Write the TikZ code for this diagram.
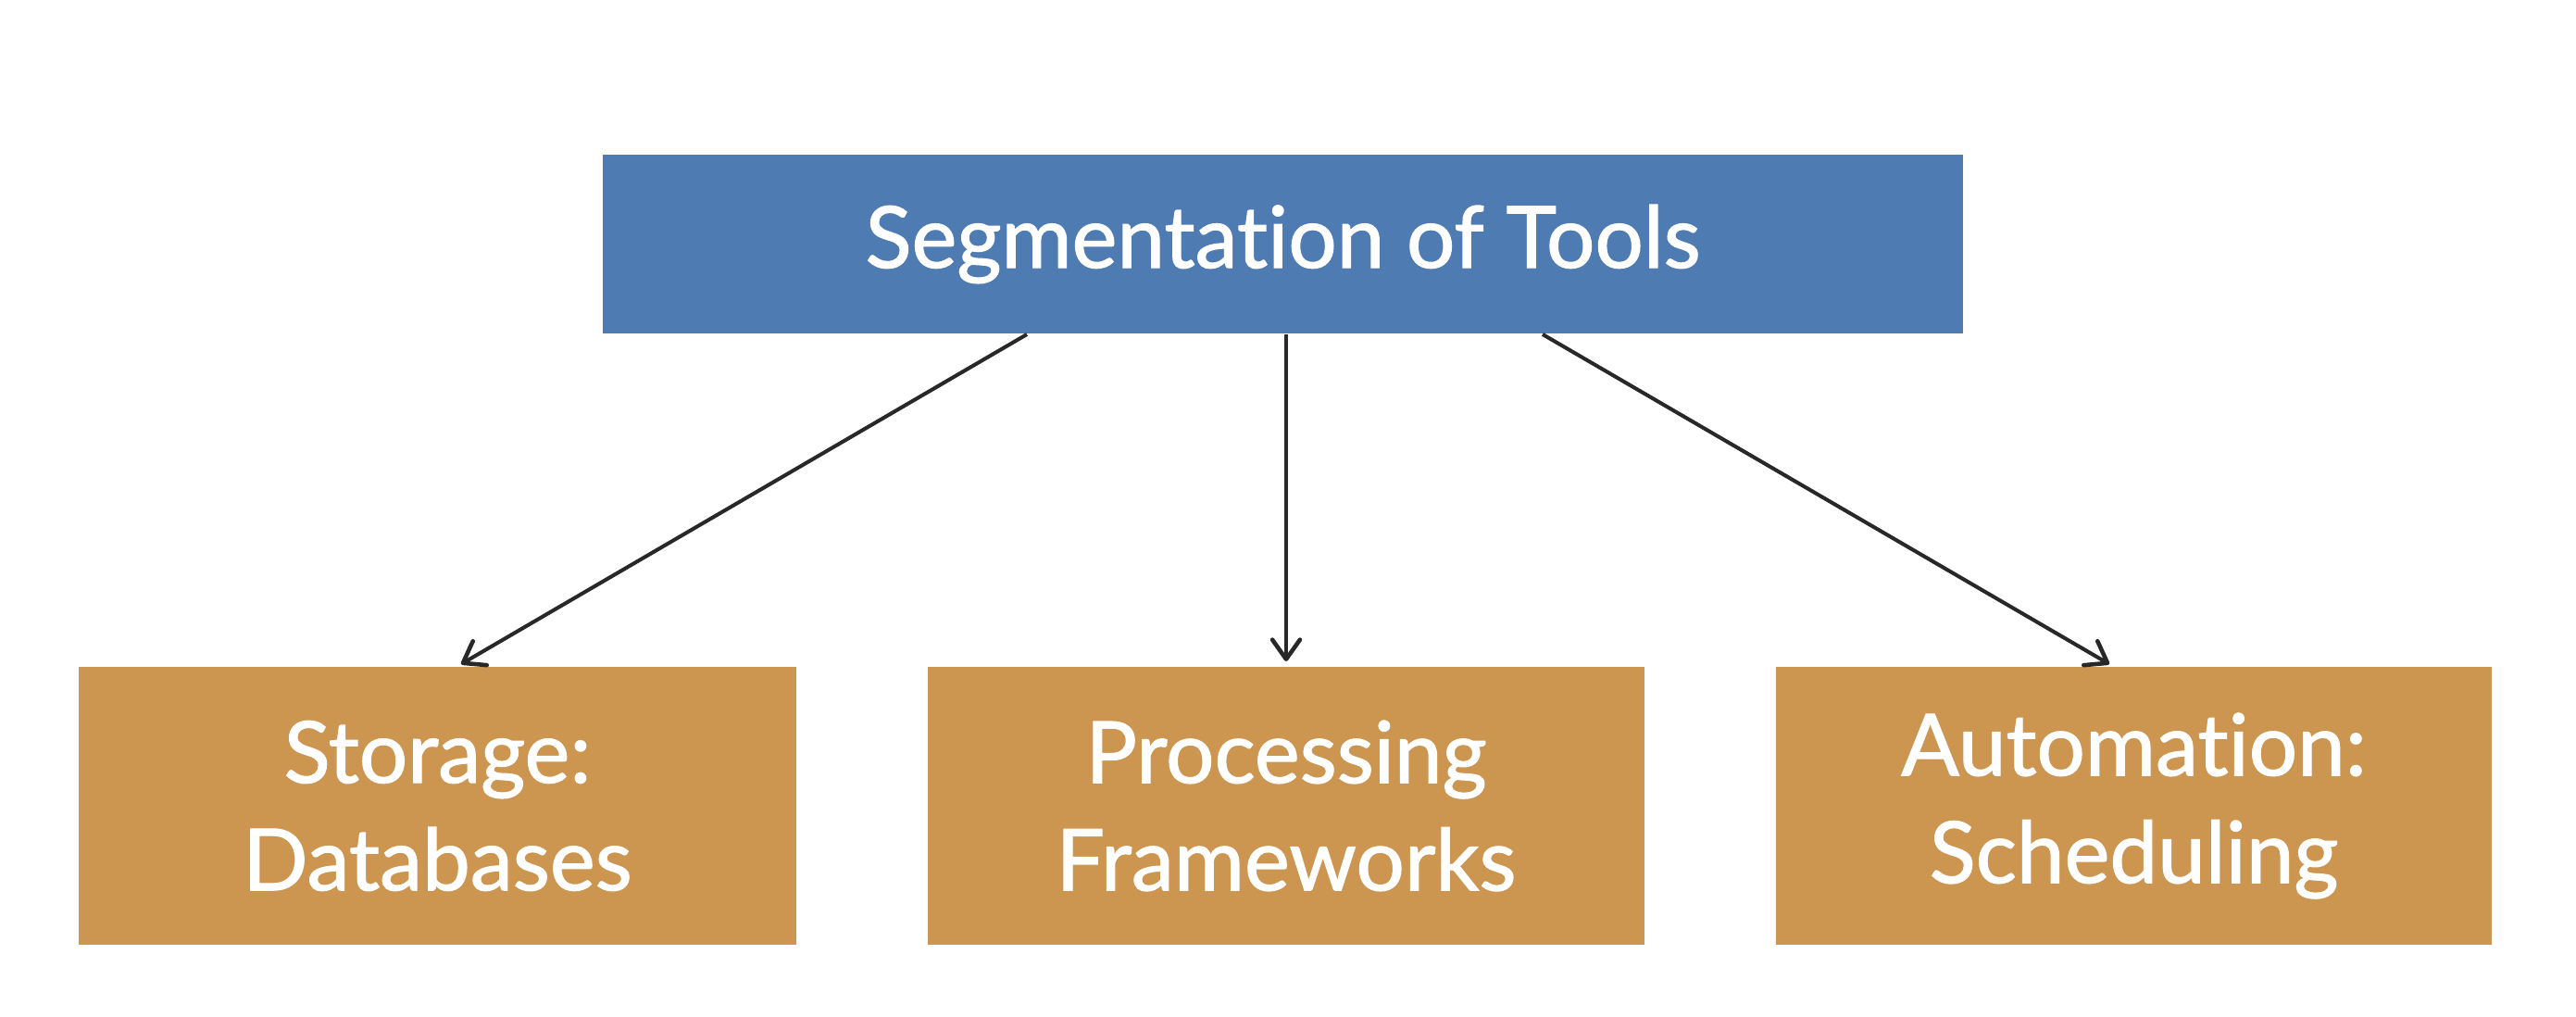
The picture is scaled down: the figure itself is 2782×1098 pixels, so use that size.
\documentclass[tikz,border=0pt]{standalone}
\usepackage{fontspec}
\setmainfont{Lato}[Ligatures=NoCommon,FakeBold=1.3]
\usetikzlibrary{arrows.meta}
\definecolor{topblue}{RGB}{79,123,179}
\definecolor{boxorange}{RGB}{204,149,80}
\definecolor{linegray}{RGB}{40,40,40}
\begin{document}
\begin{tikzpicture}[x=0.01cm,y=-0.01cm,
  topbox/.style={fill=topblue,draw=none},
  catbox/.style={fill=boxorange,draw=none},
  lbl/.style={text=white,font=\fontsize{26.3}{33}\selectfont,align=center},
  conn/.style={draw=linegray,line width=1.15pt,-{Straight Barb[length=6pt,width=8.5pt,line width=1.3pt,round]}}]
\useasboundingbox (0,0) rectangle (2782,1098);
\fill[white] (0,0) rectangle (2782,1098);
% top box
\path[topbox] (651,167) rectangle (2120,360);
\node[lbl] (top) at (1385.5,263.5) {Segmentation of Tools};
\coordinate (tl) at (1109,361);
\coordinate (tm) at (1389,361);
\coordinate (tr) at (1666,361);
% bottom boxes
\path[catbox] (85,720) rectangle (860,1020);
\path[catbox] (1002,720) rectangle (1776,1020);
\path[catbox] (1918,720) rectangle (2691,1020);
\node[lbl] (b1) at (472.5,870) {Storage:\\Databases};
\node[lbl] (b2) at (1389,870) {Processing\\Frameworks};
\node[lbl] (b3) at (2304.5,870) {Automation:\\Scheduling};
\coordinate (e1) at (498,717);
\coordinate (e2) at (1389,714);
\coordinate (e3) at (2278,717);
\draw[conn] (tl) -- (e1);
\draw[conn] (tm) -- (e2);
\draw[conn] (tr) -- (e3);
\end{tikzpicture}
\end{document}
